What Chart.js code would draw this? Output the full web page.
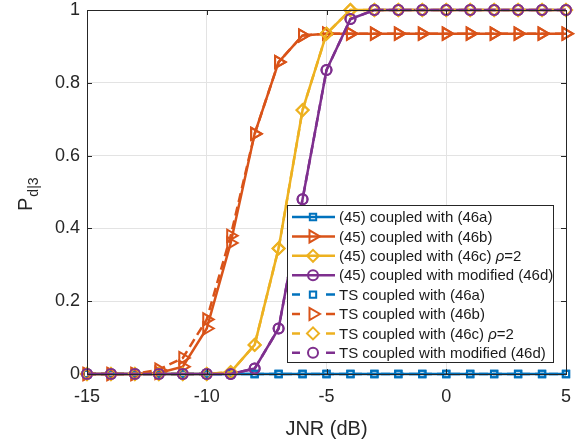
<!DOCTYPE html>
<html>
<head>
<meta charset="utf-8">
<script src="https://cdn.jsdelivr.net/npm/chart.js@4"></script>
<style>
  html, body { margin: 0; padding: 0; background: #fff; }
  #wrap { width: 582px; height: 441px; }
</style>
</head>
<body>
<div id="wrap"><canvas id="chart" width="582" height="441"></canvas></div>
<script>
// ── Data ─────────────────────────────────────────────────────────
const jnr = [-15, -14, -13, -12, -11, -10, -9, -8, -7, -6, -5, -4, -3, -2, -1, 0, 1, 2, 3, 4, 5];
const xTicks = [-15, -10, -5, 0, 5];
const yTicks = [0, 0.2, 0.4, 0.6, 0.8, 1];

const p45a = [0, 0, 0, 0, 0, 0, 0, 0, 0, 0, 0, 0, 0, 0, 0, 0, 0, 0, 0, 0, 0];
const p45b = [0, 0, 0, 0.003, 0.02, 0.125, 0.36, 0.66, 0.857, 0.93, 0.935, 0.935, 0.935, 0.935, 0.935, 0.935, 0.935, 0.935, 0.935, 0.935, 0.935];
const p45c = [0, 0, 0, 0, 0, 0, 0.005, 0.08, 0.345, 0.725, 0.935, 1, 1, 1, 1, 1, 1, 1, 1, 1, 1];
const p45d = [0, 0, 0, 0, 0, 0, 0, 0.015, 0.125, 0.48, 0.835, 0.975, 1, 1, 1, 1, 1, 1, 1, 1, 1];
const pTSa = [0, 0, 0, 0, 0, 0, 0, 0, 0, 0, 0, 0, 0, 0, 0, 0, 0, 0, 0, 0, 0];
const pTSb = [0, 0, 0, 0.012, 0.044, 0.15, 0.38, 0.66, 0.857, 0.93, 0.935, 0.935, 0.935, 0.935, 0.935, 0.935, 0.935, 0.935, 0.935, 0.935, 0.935];
const pTSc = [0, 0, 0, 0, 0, 0, 0.005, 0.08, 0.345, 0.725, 0.935, 1, 1, 1, 1, 1, 1, 1, 1, 1, 1];
const pTSd = [0, 0, 0, 0, 0, 0, 0, 0.015, 0.125, 0.48, 0.835, 0.975, 1, 1, 1, 1, 1, 1, 1, 1, 1];

const labels = [
  '(45) coupled with (46a)',
  '(45) coupled with (46b)',
  '(45) coupled with (46c) ',
  '(45) coupled with modified (46d)',
  'TS coupled with (46a)',
  'TS coupled with (46b)',
  'TS coupled with (46c) ',
  'TS coupled with modified (46d)',
];

// ── Style ────────────────────────────────────────────────────────
const FONT = "'Liberation Sans', Arial, Helvetica, sans-serif";
const COLORS = ['#0072BD', '#D95319', '#EDB120', '#7E2F8E'];
const MARKERS = [
  { style: 'rect', radius: 4.5, rotation: 0 },
  { style: 'triangle', radius: 7, rotation: 90 },
  { style: 'rectRot', radius: 6, rotation: 0 },
  { style: 'circle', radius: 5, rotation: 0 },
];
const series = [p45a, p45b, p45c, p45d, pTSa, pTSb, pTSc, pTSd];

const datasets = series.map((vals, i) => {
  const k = i % 4;
  const dashed = i >= 4;
  return {
    label: labels[i],
    data: jnr.map((x, j) => ({ x: x, y: vals[j] })),
    borderColor: COLORS[k],
    backgroundColor: 'rgba(0,0,0,0)',
    borderWidth: 2.5,
    borderDash: dashed ? [9, 5] : [],
    pointStyle: MARKERS[k].style,
    pointRadius: MARKERS[k].radius,
    pointRotation: MARKERS[k].rotation,
    pointBorderColor: COLORS[k],
    pointBackgroundColor: 'rgba(0,0,0,0)',
    pointBorderWidth: 2,
    tension: 0,
    clip: false,
    order: 8 - i,
  };
});

// ── Frame, inward ticks, titles, legend ──────────────────────────
const framePlugin = {
  id: 'frame',
  afterDraw(chart) {
    const { ctx, chartArea: a, scales } = chart;
    ctx.save();
    ctx.strokeStyle = '#262626';
    ctx.lineWidth = 1;
    ctx.strokeRect(a.left + 0.5, a.top + 0.5, a.right - a.left, a.bottom - a.top);
    ctx.beginPath();
    xTicks.forEach(t => {
      const px = Math.round(scales.x.getPixelForValue(t)) + 0.5;
      ctx.moveTo(px, a.bottom); ctx.lineTo(px, a.bottom - 5);
      ctx.moveTo(px, a.top); ctx.lineTo(px, a.top + 5);
    });
    yTicks.forEach(t => {
      const py = Math.round(scales.y.getPixelForValue(t)) + 0.5;
      ctx.moveTo(a.left, py); ctx.lineTo(a.left + 5, py);
      ctx.moveTo(a.right, py); ctx.lineTo(a.right - 5, py);
    });
    ctx.stroke();

    // y title: P with subscript d|3
    ctx.fillStyle = '#262626';
    ctx.translate(32, 211);
    ctx.rotate(-Math.PI / 2);
    ctx.textBaseline = 'alphabetic';
    ctx.textAlign = 'left';
    ctx.font = '20px ' + FONT;
    ctx.fillText('P', 0, 0);
    const pw = ctx.measureText('P').width;
    ctx.font = '14px ' + FONT;
    ctx.fillText('d|3', pw + 1, 6);
    ctx.restore();

    // legend
    ctx.save();
    const lx = 287, ly = 205, lw = 266, lh = 157;
    ctx.fillStyle = '#fff';
    ctx.fillRect(lx, ly, lw, lh);
    ctx.strokeStyle = '#262626';
    ctx.lineWidth = 1;
    ctx.strokeRect(lx + 0.5, ly + 0.5, lw, lh);
    ctx.textBaseline = 'middle';
    datasets.forEach((ds, i) => {
      const y = ly + 12 + i * 19.4;
      const k = i % 4;
      ctx.setLineDash([]);
      ctx.strokeStyle = COLORS[k];
      ctx.lineWidth = 2.5;
      ctx.beginPath();
      if (i < 4) {
        ctx.moveTo(292, y); ctx.lineTo(335, y);
      } else {
        ctx.moveTo(292, y); ctx.lineTo(300, y);
        ctx.moveTo(326, y); ctx.lineTo(335, y);
      }
      ctx.stroke();
      ctx.lineWidth = 2;
      ctx.fillStyle = 'rgba(0,0,0,0)';
      Chart.helpers.drawPoint(ctx, {
        pointStyle: MARKERS[k].style,
        radius: MARKERS[k].radius,
        rotation: MARKERS[k].rotation,
        borderWidth: 2,
      }, 313, y);
      ctx.fillStyle = '#1a1a1a';
      ctx.font = '15px ' + FONT;
      ctx.fillText(ds.label, 339, y + 1);
      if (k === 2) {
        const w = ctx.measureText(ds.label).width;
        ctx.font = 'italic 15px ' + FONT;
        ctx.fillText('\u03C1', 339 + w, y + 1);
        const rw = ctx.measureText('\u03C1').width;
        ctx.font = '15px ' + FONT;
        ctx.fillText('=2', 339 + w + rw, y + 1);
      }
    });
    ctx.restore();
  }
};

new Chart(document.getElementById('chart').getContext('2d'), {
  type: 'line',
  data: { datasets: datasets },
  options: {
    responsive: false,
    animation: false,
    layout: { padding: { top: 10, right: 16, left: 0, bottom: 0 } },
    plugins: {
      legend: { display: false },
      tooltip: { enabled: false },
    },
    scales: {
      x: {
        type: 'linear',
        min: -15,
        max: 5,
        afterBuildTicks: (s) => { s.ticks = xTicks.map(v => ({ value: v })); },
        afterFit: (s) => { s.height = 67; s.paddingLeft = 0; s.paddingRight = 0; },
        grid: { color: '#e3e3e3', drawTicks: false },
        border: { display: false },
        ticks: {
          color: '#262626',
          font: { family: FONT, size: 18 },
          padding: 12,
          maxRotation: 0,
          callback: (v) => String(v),
        },
        title: {
          display: true,
          text: 'JNR (dB)',
          color: '#262626',
          font: { family: FONT, size: 20 },
          padding: { top: 4, bottom: 0 },
        },
      },
      y: {
        type: 'linear',
        min: 0,
        max: 1,
        afterBuildTicks: (s) => { s.ticks = yTicks.map(v => ({ value: v })); },
        afterFit: (s) => { s.width = 87; s.paddingTop = 0; s.paddingBottom = 0; },
        grid: { color: '#e3e3e3', drawTicks: false },
        border: { display: false },
        ticks: {
          color: '#262626',
          font: { family: FONT, size: 18 },
          padding: 7,
          callback: (v) => String(Math.round(v * 10) / 10),
        },
      },
    },
  },
  plugins: [framePlugin],
});
</script>
</body>
</html>
